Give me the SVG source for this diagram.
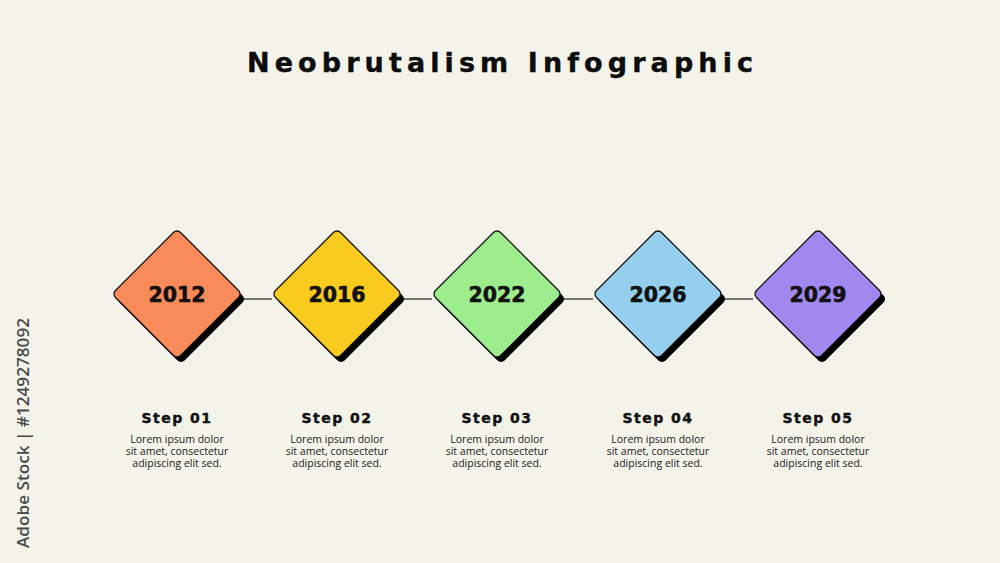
<svg xmlns="http://www.w3.org/2000/svg" width="1000" height="563" viewBox="0 0 1000 563">
<style>
.title{font-family:"DejaVu Sans",Inter,sans-serif;font-weight:bold;font-size:27px;fill:#0d0d0d;stroke:#0d0d0d;stroke-width:0.4}
.year{font-family:"DejaVu Sans",Inter,sans-serif;font-weight:bold;font-size:20.5px;fill:#111;stroke:#111;stroke-width:0.6;text-anchor:middle}
.step{font-family:"DejaVu Sans",Inter,sans-serif;font-weight:bold;font-size:14px;fill:#111;stroke:#111;stroke-width:0.4;text-anchor:middle;letter-spacing:1.5px}
.body{font-family:"Open Sans","Noto Sans",sans-serif;font-size:10.5px;fill:#222;text-anchor:middle}
.dia{stroke:#111;stroke-width:1.3}
.shadow{fill:#000}
.wm{font-family:"Open Sans","Noto Sans",sans-serif;font-size:17px;font-weight:600;fill:#4a4a4a}
</style>
<defs>
<rect id="d" x="-46" y="-46" width="92" height="92" rx="5" transform="rotate(45)"/>
</defs>
<rect width="1000" height="563" fill="#f3f3ea"/>
<text class="title" x="500" y="72" text-anchor="middle" textLength="506" lengthAdjust="spacing">Neobrutalism Infographic</text>
<text class="wm" transform="translate(29,548) rotate(-90)" textLength="230" lengthAdjust="spacingAndGlyphs">Adobe Stock | #1249278092</text>
<g id="connectors" stroke="#222" stroke-width="1.2">
<line x1="242" y1="299" x2="272" y2="299"/>
<line x1="402" y1="299" x2="432" y2="299"/>
<line x1="562" y1="299" x2="593" y2="299"/>
<line x1="723" y1="299" x2="753" y2="299"/>
</g>
<g id="node1">
<use href="#d" class="shadow" transform="translate(181,299)"/>
<use href="#d" class="dia" fill="#f98a5a" transform="translate(177,294)"/>
<text class="year" x="177" y="301.5">2012</text>
<text class="step" x="177" y="423">Step 01</text>
<text class="body" x="177" y="443">Lorem ipsum dolor</text>
<text class="body" x="177" y="455">sit amet, consectetur</text>
<text class="body" x="177" y="467">adipiscing elit sed.</text>
</g>
<g id="node2">
<use href="#d" class="shadow" transform="translate(341,299)"/>
<use href="#d" class="dia" fill="#f9cb1e" transform="translate(337,294)"/>
<text class="year" x="337" y="301.5">2016</text>
<text class="step" x="337" y="423">Step 02</text>
<text class="body" x="337" y="443">Lorem ipsum dolor</text>
<text class="body" x="337" y="455">sit amet, consectetur</text>
<text class="body" x="337" y="467">adipiscing elit sed.</text>
</g>
<g id="node3">
<use href="#d" class="shadow" transform="translate(501,299)"/>
<use href="#d" class="dia" fill="#9ded8f" transform="translate(497,294)"/>
<text class="year" x="497" y="301.5">2022</text>
<text class="step" x="497" y="423">Step 03</text>
<text class="body" x="497" y="443">Lorem ipsum dolor</text>
<text class="body" x="497" y="455">sit amet, consectetur</text>
<text class="body" x="497" y="467">adipiscing elit sed.</text>
</g>
<g id="node4">
<use href="#d" class="shadow" transform="translate(662,299)"/>
<use href="#d" class="dia" fill="#94cfee" transform="translate(658,294)"/>
<text class="year" x="658" y="301.5">2026</text>
<text class="step" x="658" y="423">Step 04</text>
<text class="body" x="658" y="443">Lorem ipsum dolor</text>
<text class="body" x="658" y="455">sit amet, consectetur</text>
<text class="body" x="658" y="467">adipiscing elit sed.</text>
</g>
<g id="node5">
<use href="#d" class="shadow" transform="translate(822,299)"/>
<use href="#d" class="dia" fill="#a188ef" transform="translate(818,294)"/>
<text class="year" x="818" y="301.5">2029</text>
<text class="step" x="818" y="423">Step 05</text>
<text class="body" x="818" y="443">Lorem ipsum dolor</text>
<text class="body" x="818" y="455">sit amet, consectetur</text>
<text class="body" x="818" y="467">adipiscing elit sed.</text>
</g>
</svg>
